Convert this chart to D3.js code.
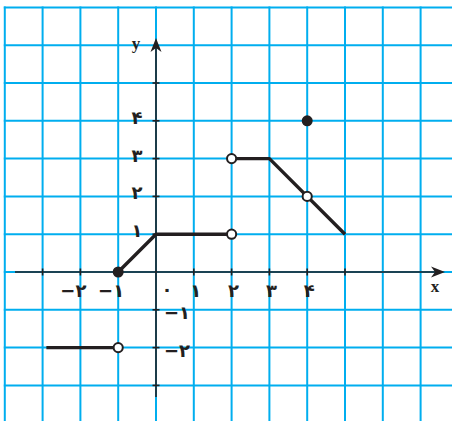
<!DOCTYPE html>
<meta charset="utf-8">
<style>
body { margin: 0; background: #fff; }
.grid line { stroke: #00aeef; stroke-width: 2; }
.axis line { stroke: #231f20; stroke-width: 1.6; }
.lbl { font-family: "DejaVu Sans"; font-weight: bold; font-size: 18px; fill: #231f20; }
.var { font-family: "Liberation Serif"; font-weight: bold; font-size: 17px; fill: #231f20; }
</style>
<svg width="452" height="421"></svg>
<script src="https://d3js.org/d3.v7.min.js"></script>
<script>

// graph pieces of the function
var segments = [
  [[-2.9, -2], [-1, -2]],
  [[-1, 0], [0, 1], [2, 1]],
  [[2, 3], [3, 3], [5, 1]]
];
var openPoints = [[-1, -2], [2, 1], [2, 3], [4, 2]];
var filledPoints = [[-1, 0], [4, 4]];

var gridX = d3.range(-4, 8);
var gridY = d3.range(-3, 8);
var xTicks = [-3, -2, -1, 1, 2, 3, 4, 5];
var yTicks = [-3, -2, -1, 1, 2, 3, 4, 5];
var xLabels = [[-2, "−۲"], [-1, "−۱"], [1, "۱"], [2, "۲"], [3, "۳"], [4, "۴"]];
var yLabels = [[1, "۱"], [2, "۲"], [3, "۳"], [4, "۴"], [-1, "−۱"], [-2, "−۲"]];

var svg = d3.select("svg"),
    width = +svg.attr("width"),
    height = +svg.attr("height");

var x = d3.scaleLinear().domain([-4, 7]).range([4.8, 420.6]);
var y = d3.scaleLinear().domain([-3, 7]).range([385.4, 7.4]);

var grid = svg.append("g").attr("class", "grid");
grid.selectAll(".v").data(gridX).enter().append("line")
    .attr("x1", x).attr("x2", x)
    .attr("y1", y(7) - 1).attr("y2", height);
grid.selectAll(".h").data(gridY).enter().append("line")
    .attr("x1", x(-4) - 1).attr("x2", width)
    .attr("y1", y).attr("y2", y);

var axis = svg.append("g").attr("class", "axis");
axis.append("line").attr("x1", 15).attr("x2", 436).attr("y1", y(0)).attr("y2", y(0));
axis.append("line").attr("x1", x(0)).attr("x2", x(0)).attr("y1", 397).attr("y2", 48);

axis.selectAll(".xt").data(xTicks).enter().append("line")
    .attr("x1", x).attr("x2", x)
    .attr("y1", y(0) - 3.5).attr("y2", y(0) + 3.5);
axis.selectAll(".yt").data(yTicks).enter().append("line")
    .attr("x1", x(0) - 3.5).attr("x2", x(0) + 3.5)
    .attr("y1", y).attr("y2", y);

// arrow heads
var ax = 445, ay = y(0);
svg.append("path")
    .attr("d", "M" + ax + "," + ay + " L" + (ax - 14) + "," + (ay - 5.5) + " L" + (ax - 10) + "," + ay + " L" + (ax - 14) + "," + (ay + 5.5) + "Z")
    .attr("fill", "#231f20");
var bx = x(0), by = 38;
svg.append("path")
    .attr("d", "M" + bx + "," + by + " L" + (bx - 5.5) + "," + (by + 14) + " L" + bx + "," + (by + 10) + " L" + (bx + 5.5) + "," + (by + 14) + "Z")
    .attr("fill", "#231f20");

svg.append("text").attr("class", "var").attr("x", 435).attr("y", 292)
    .attr("text-anchor", "middle").text("x");
svg.append("text").attr("class", "var").attr("x", 136).attr("y", 49)
    .attr("text-anchor", "middle").text("y");

// tick labels
svg.selectAll(".xl").data(xLabels).enter().append("text")
    .attr("class", "lbl")
    .attr("direction", "ltr")
    .attr("x", function(d) { return d[0] < 0 ? x(d[0]) + 6 : x(d[0]) + 2; })
    .attr("y", 297)
    .attr("text-anchor", function(d) { return d[0] < 0 ? "end" : "middle"; })
    .text(function(d) { return d[1]; });

svg.append("text").attr("class", "lbl").attr("x", x(0) + 11).attr("y", 296)
    .attr("text-anchor", "middle").text("۰");

svg.selectAll(".yl").data(yLabels).enter().append("text")
    .attr("class", "lbl")
    .attr("direction", "ltr")
    .attr("x", function(d) { return d[0] < 0 ? x(0) + 8 : x(0) - 19; })
    .attr("y", function(d) { return d[0] < 0 ? y(d[0]) + 9 : y(d[0]) + 3; })
    .attr("text-anchor", function(d) { return d[0] < 0 ? "start" : "middle"; })
    .text(function(d) { return d[1]; });

// function graph
var line = d3.line().x(function(d) { return x(d[0]); }).y(function(d) { return y(d[1]); });
svg.selectAll(".seg").data(segments).enter().append("path")
    .attr("d", line)
    .attr("fill", "none")
    .attr("stroke", "#231f20")
    .attr("stroke-width", 3.4)
    .attr("stroke-linejoin", "round");

svg.selectAll(".open").data(openPoints).enter().append("circle")
    .attr("cx", function(d) { return x(d[0]); })
    .attr("cy", function(d) { return y(d[1]); })
    .attr("r", 4.6)
    .attr("fill", "#fff")
    .attr("stroke", "#231f20")
    .attr("stroke-width", 2);

svg.selectAll(".fill").data(filledPoints).enter().append("circle")
    .attr("cx", function(d) { return x(d[0]); })
    .attr("cy", function(d) { return y(d[1]); })
    .attr("r", 5.5)
    .attr("fill", "#231f20");

</script>
